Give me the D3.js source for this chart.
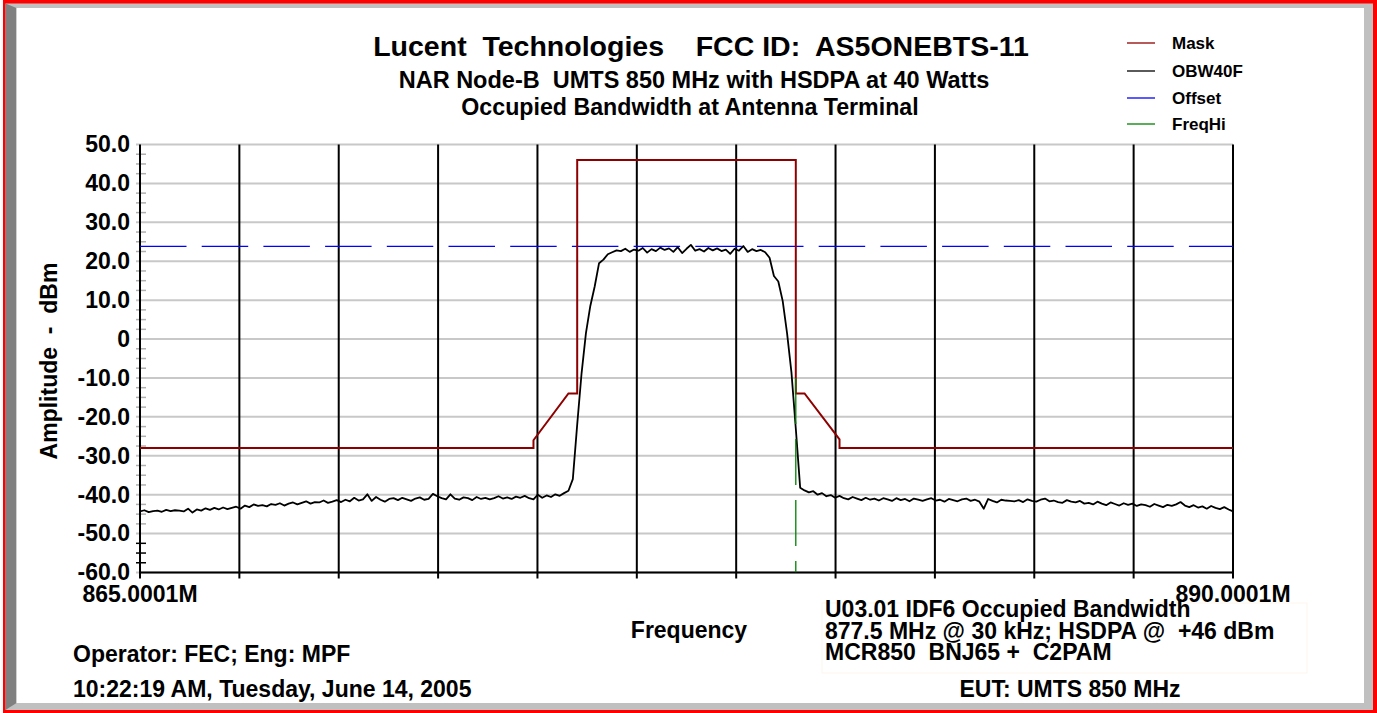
<!DOCTYPE html>
<html>
<head>
<meta charset="utf-8">
<script src="https://cdn.jsdelivr.net/npm/d3@7"></script>
<style>
body { margin: 0; background: #fff; }
text { font-family: "Liberation Sans", Arial, sans-serif; font-weight: bold; white-space: pre; fill: #000; }
</style>
</head>
<body>
<div id="chart"></div>
<script>
//set chart data
var yTicks = [50, 40, 30, 20, 10, 0, -10, -20, -30, -40, -50, -60];
var yTickLabels = ["50.0", "40.0", "30.0", "20.0", "10.0", "0", "-10.0", "-20.0", "-30.0", "-40.0", "-50.0", "-60.0"];
var freqStart = 865.0001;
var freqStop = 890.0001;
var freqEdgeLabels = ["865.0001M", "890.0001M"];
var freqDivisions = 11;

var maskFreq = [865.0001, 874.0, 874.0, 874.8, 875.0, 875.0, 880.0, 880.0, 880.2, 881.0, 881.0, 890.0001];
var maskLevel = [-28, -28, -26, -14, -14, 46, 46, -14, -14, -25.8, -28, -28];
var offsetLevel = 23.8;
var freqHi = 880.0;
var freqHiLevels = [-10, -60];

//OBW40F trace, one value every 0.1 MHz from 865.0 MHz
var traceStart = 865.0;
var traceStep = 0.1;
var obwLevel = [
    -44.3, -44.0, -44.5, -44.2, -44.1, -44.4, -43.9, -44.2, -44.0, -44.1, -44.3, -43.6, -44.6, -43.8, -44.1, -43.5, -43.9, -43.4, -43.8, -43.3, -43.7, -43.4,
    -43.1, -43.6, -42.8, -43.2, -42.5, -42.9, -42.7, -43.0, -42.4, -42.6, -42.2, -42.8, -42.3, -42.0, -42.5, -42.1, -41.7, -42.3, -41.9, -42.0, -41.5, -42.1, -41.8,
    -41.4, -41.9, -41.3, -41.7, -40.8, -41.5, -41.2, -39.9, -41.6, -40.6, -41.3, -41.8, -41.1, -40.9, -41.4, -40.8, -41.2, -41.6, -41.0, -40.7, -41.3, -41.1, -39.8,
    -40.4, -40.9, -41.2, -39.9, -41.0, -41.3, -40.7, -40.9, -41.4, -40.6, -41.1, -40.8, -41.2, -40.9, -40.4, -41.0, -40.7, -41.1, -40.5, -40.8, -40.3, -40.9, -41.2, -40.0, -40.8, -40.2, -40.6, -39.9, -40.3, -39.6,
    -39.0, -36.0, -22.0, -8.8, 1.5, 8.5, 13.5, 19.5, 20.4, 21.8,
    22.3, 22.8, 22.6, 23.2, 22.4, 23.0, 22.7, 23.4, 22.2, 23.1, 22.6, 23.5, 22.9, 23.3, 22.4, 23.6, 22.1, 23.2, 24.2, 22.7, 23.1, 22.5, 23.4, 22.8, 23.3, 22.6, 23.0, 21.9, 23.2, 22.7, 23.9, 22.4, 23.1, 22.6, 22.9, 22.3,
    20.9, 16.2, 14.8, 9.8, 1.5, -8.5, -23.0, -38.2,
    -38.9, -39.4, -39.1, -40.0, -39.6, -40.4, -40.1, -40.8, -40.3, -40.9, -41.2, -40.6, -41.0, -41.4, -40.8, -41.3, -41.0, -41.5, -40.9,
    -41.2, -41.6, -40.9, -41.4, -41.1, -41.7, -41.0, -41.3, -41.6, -41.2, -40.9, -41.5, -41.3, -41.8, -41.1, -41.4, -41.7, -41.2, -41.0, -41.6, -41.3, -41.8, -43.6,
    -41.1, -41.6, -42.0, -41.3, -41.5, -41.6, -41.7, -41.4, -41.9, -41.2, -41.6, -41.8, -41.3, -41.0, -41.7, -41.5, -41.9, -42.1, -41.4, -41.8, -42.0, -41.6, -42.3,
    -42.1, -42.5, -41.8, -42.3, -42.7, -42.0, -42.4, -42.8, -42.2, -42.6, -42.3, -42.9, -42.5, -42.7, -43.1, -42.4, -42.8, -43.2, -42.6, -42.9, -42.5, -41.9, -42.8,
    -43.2, -42.7, -43.3, -43.0, -43.6, -42.9, -43.4, -43.7, -43.2, -43.8, -44.3
];

var legendNames = ["Mask", "OBW40F", "Offset", "FreqHi"];
var legendColors = ["#8e0000", "#000000", "#0000ff", "#008000"];

var titleLines = ["Lucent  Technologies    FCC ID:  AS5ONEBTS-11",
    "NAR Node-B  UMTS 850 MHz with HSDPA at 40 Watts",
    "Occupied Bandwidth at Antenna Terminal"];
var noteLines = ["U03.01 IDF6 Occupied Bandwidth",
    "877.5 MHz @ 30 kHz; HSDPA @  +46 dBm",
    "MCR850  BNJ65 +  C2PAM"];

// set up svg dimensions
var svgwidth = 1377;
var svgheight = 713;

//plot box inside the frame
var plot = {left: 140, right: 1233, top: 144.5, bottom: 572.5};

var svg = d3.select("#chart").append("svg")
    .attr("width", svgwidth)
    .attr("height", svgheight);

//window frame: red edge, bevel, white inside
svg.append("rect").attr("x", 0).attr("y", 0).attr("width", svgwidth).attr("height", svgheight).attr("fill", "#fff");
svg.append("rect").attr("x", 3).attr("y", 0).attr("width", svgwidth - 3).attr("height", svgheight).attr("fill", "#ff0000");
svg.append("rect").attr("x", 5.5).attr("y", 3.5).attr("width", 1367.5).attr("height", 706.5).attr("fill", "#c0c0c0");
svg.append("polygon").attr("points", "5.5,3.5 16.5,8 16.5,703 5.5,710").attr("fill", "#808080");
svg.append("rect").attr("x", 16.5).attr("y", 8).attr("width", 1347.5).attr("height", 695).attr("fill", "#fff");

//scales
var xScale = d3.scaleLinear().domain([freqStart, freqStop]).range([plot.left, plot.right]);
var yScale = d3.scaleLinear().domain([-60, 50]).range([plot.bottom, plot.top]);

//horizontal grid
svg.append("g").selectAll("line").data(yTicks).enter().append("line")
    .attr("x1", plot.left - 4).attr("x2", plot.right)
    .attr("y1", d => yScale(d)).attr("y2", d => yScale(d))
    .attr("stroke", "#c8c8c8").attr("stroke-width", 2);

//minor ticks on the y axis
var minorTicks = d3.range(-57.5, 50, 2.5).filter(d => d % 10 !== 0);
svg.append("g").selectAll("line").data(minorTicks).enter().append("line")
    .attr("x1", plot.left - 4).attr("x2", plot.left + 6)
    .attr("y1", d => yScale(d)).attr("y2", d => yScale(d))
    .attr("stroke", d => d < -50 ? "#000" : "#b0b0b0").attr("stroke-width", 1.5);

//vertical grid + bottom ticks
var gridFreq = d3.range(freqDivisions + 1).map(i => freqStart + i * (freqStop - freqStart) / freqDivisions);
svg.append("g").selectAll("line").data(gridFreq).enter().append("line")
    .attr("x1", d => xScale(d)).attr("x2", d => xScale(d))
    .attr("y1", plot.top).attr("y2", plot.bottom + 6)
    .attr("stroke", "#000").attr("stroke-width", 2);

//bottom axis line
svg.append("line")
    .attr("x1", plot.left).attr("x2", plot.right)
    .attr("y1", plot.bottom).attr("y2", plot.bottom)
    .attr("stroke", "#000").attr("stroke-width", 2);

//y tick labels
svg.append("g").selectAll("text").data(yTicks).enter().append("text")
    .attr("x", 130).attr("y", d => yScale(d))
    .attr("dy", "0.34em")
    .attr("text-anchor", "end")
    .style("font-size", "23px")
    .text((d, i) => yTickLabels[i]);

//y axis title
svg.append("text")
    .attr("transform", "translate(57,361) rotate(-90)")
    .attr("text-anchor", "middle")
    .style("font-size", "23px")
    .text("Amplitude  -  dBm");

//frequency edge labels
svg.append("g").selectAll("text").data([freqStart, freqStop]).enter().append("text")
    .attr("x", d => xScale(d)).attr("y", 602)
    .attr("text-anchor", "middle")
    .style("font-size", "23px")
    .text((d, i) => freqEdgeLabels[i]);

svg.append("text").attr("x", 689).attr("y", 638).attr("text-anchor", "middle")
    .style("font-size", "23px").text("Frequency");

//clip to the plot box
svg.append("clipPath").attr("id", "plotclip").append("rect")
    .attr("x", plot.left).attr("y", plot.top - 2)
    .attr("width", plot.right - plot.left + 1).attr("height", plot.bottom - plot.top + 2);

var lines = svg.append("g").attr("clip-path", "url(#plotclip)");

//offset line
lines.append("line")
    .attr("x1", xScale(freqStart)).attr("x2", xScale(freqStop))
    .attr("y1", yScale(offsetLevel)).attr("y2", yScale(offsetLevel))
    .attr("stroke", legendColors[2]).attr("stroke-width", 1.3)
    .attr("stroke-dasharray", "46.5,15.2");

//mask
var maskLine = d3.line().x(d => xScale(d[0])).y(d => yScale(d[1]));
lines.append("path")
    .attr("d", maskLine(maskFreq.map((f, i) => [f, maskLevel[i]])))
    .attr("fill", "none").attr("stroke", legendColors[0]).attr("stroke-width", 2);

//trace
var traceLine = d3.line()
    .x((d, i) => xScale(traceStart + i * traceStep))
    .y(d => yScale(d));
lines.append("path")
    .attr("d", traceLine(obwLevel))
    .attr("fill", "none").attr("stroke", legendColors[1]).attr("stroke-width", 1.8)
    .attr("stroke-linejoin", "round");

//freq hi marker
lines.append("line")
    .attr("x1", xScale(freqHi)).attr("x2", xScale(freqHi))
    .attr("y1", yScale(freqHiLevels[0])).attr("y2", yScale(freqHiLevels[1]))
    .attr("stroke", legendColors[3]).attr("stroke-width", 1.3)
    .attr("stroke-dasharray", "46,15");

//titles
var titleY = [56, 88, 115];
var titleX = [701, 694, 690];
var titleSize = [28.5, 23.5, 23.2];
titleLines.forEach(function(t, i) {
    svg.append("text").attr("x", titleX[i]).attr("y", titleY[i])
        .attr("text-anchor", "middle")
        .style("font-size", titleSize[i] + "px")
        .text(t);
});

//legend
var legendY = [43, 71, 98, 124];
var legend = svg.append("g");
legendNames.forEach(function(name, i) {
    legend.append("line")
        .attr("x1", 1127).attr("x2", 1155)
        .attr("y1", legendY[i]).attr("y2", legendY[i])
        .attr("stroke", legendColors[i]).attr("stroke-width", 1.3);
    legend.append("text")
        .attr("x", 1172).attr("y", legendY[i] + 6)
        .style("font-size", "17px")
        .text(name);
});

//bottom notes
svg.append("text").attr("x", 73).attr("y", 662).style("font-size", "23px").text("Operator: FEC; Eng: MPF");
svg.append("text").attr("x", 73).attr("y", 697).style("font-size", "23px").text("10:22:19 AM, Tuesday, June 14, 2005");
svg.append("text").attr("x", 1070).attr("y", 697).attr("text-anchor", "middle").style("font-size", "23px").text("EUT: UMTS 850 MHz");

svg.append("rect")
    .attr("x", 822).attr("y", 603).attr("width", 485).attr("height", 70)
    .attr("fill", "none").attr("stroke", "#fdf6ee").attr("stroke-width", 1);
var noteY = [617, 639, 660];
noteLines.forEach(function(t, i) {
    svg.append("text").attr("x", 825).attr("y", noteY[i])
        .style("font-size", "23px")
        .text(t);
});
</script>
</body>
</html>
